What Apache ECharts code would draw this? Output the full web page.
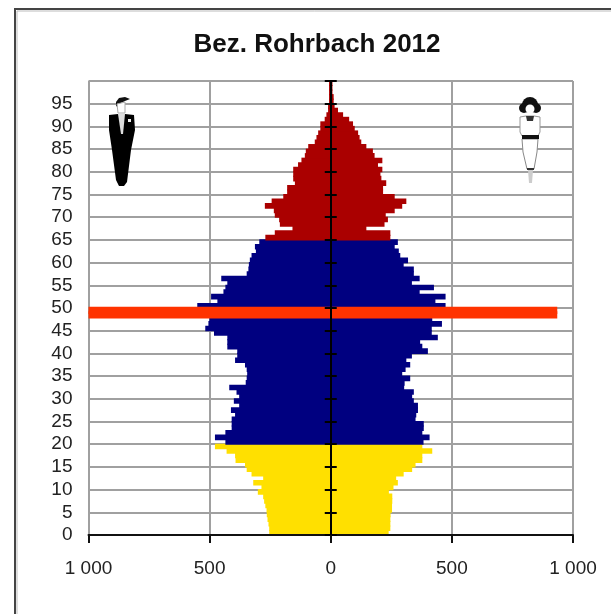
<!DOCTYPE html>
<html>
<head>
<meta charset="utf-8">
<style>html,body{margin:0;padding:0;background:#fff;overflow:hidden}#c{width:611px;height:614px}</style>
<script src="https://cdn.jsdelivr.net/npm/echarts@6/dist/echarts.min.js"></script>
</head>
<body>
<div id="c"></div>
<script>
const titleText = 'Bez. Rohrbach 2012';
const men = [254,254,257,261,264,265,270,275,279,301,286,320,279,327,347,354,393,395,430,478,
435,478,435,409,409,409,395,412,378,400,378,389,419,351,347,345,347,354,395,386,
386,427,427,427,482,518,505,501,498,520,551,468,494,443,435,427,452,347,340,338,
334,327,309,313,295,270,231,158,210,213,231,235,272,244,196,180,180,148,155,155,
155,135,121,107,103,93,66,59,52,43,43,25,18,11,11,7,7,7,7,7];
const women = [239,246,246,246,247,253,253,254,254,240,259,277,270,301,336,350,378,378,419,378,
383,408,378,384,384,350,353,360,360,343,336,343,303,305,328,295,309,328,312,335,
401,378,369,442,417,417,459,419,463,470,474,432,474,367,426,335,367,343,343,301,
319,287,281,264,277,246,246,147,222,236,227,264,295,312,264,216,216,229,209,205,
213,195,213,181,174,147,126,119,113,99,92,76,51,30,16,12,12,7,7,7];
const markerAges = [48,49];
const markerMen = [1000,1000];
const markerWomen = [935,935];
const ages = men.map((_, i) => String(i));
const cohortColors = {young:'#FFE000', working:'#000080', old:'#AA0000', marker:'#FF3300'};
const colorOf = a => a < 20 ? cohortColors.young : a < 65 ? cohortColors.working : cohortColors.old;
const fmtX = v => { const n = Math.abs(v); return n >= 1000 ? '1 000' : String(n); };
const item = (v, a) => ({value:v, itemStyle:{color:colorOf(a)}});
const markerData = (vals, sign) => ages.map((_, a) => {
  const k = markerAges.indexOf(a); return k < 0 ? null : sign * vals[k];
});
const font = 'Liberation Sans, Arial, sans-serif';
const chart = echarts.init(document.getElementById('c'), null, {renderer:'canvas'});
const hiddenCat = {type:'category', data:ages, show:false, boundaryGap:true};
chart.setOption({
  animation:false,
  backgroundColor:'#fff',
  title:{text:titleText, left:312, top:27, textAlign:'center',
    textStyle:{fontFamily:font, fontSize:26, fontWeight:'bold', color:'#111'}},
  grid:{left:88.5, right:38, top:81, bottom:79, containLabel:false},
  xAxis:[
    {type:'value', min:-1000, max:1000, interval:500,
      axisLine:{show:false}, axisTick:{show:false}, axisLabel:{show:false},
      splitLine:{show:true, lineStyle:{color:'#A0A0A0', width:2}}},
    {type:'value', min:-1000, max:1000, interval:500, position:'bottom', z:8,
      axisLine:{onZero:false, show:true, lineStyle:{color:'#111', width:2}},
      axisTick:{show:true, length:8, lineStyle:{color:'#111', width:2}},
      axisLabel:{margin:24, fontFamily:font, fontSize:19, color:'#222', formatter:fmtX, hideOverlap:false},
      splitLine:{show:false}}
  ],
  yAxis:[
    hiddenCat,
    {...hiddenCat},
    {type:'value', min:0, max:100, interval:5, position:'left',
      axisLine:{show:false}, axisTick:{show:false},
      axisLabel:{margin:16, fontFamily:font, fontSize:19, color:'#222', padding:[0,0,4,0],
        formatter:v => v === 100 ? '' : String(v)},
      splitLine:{show:true, lineStyle:{color:'#A0A0A0', width:2}}},
    {type:'value', min:0, max:100, interval:5, position:'left', offset:-242.25, z:8,
      axisLine:{show:true, lineStyle:{color:'#000', width:2}},
      axisTick:{show:true, length:6, lineStyle:{color:'#000', width:2}},
      axisLabel:{show:false}, splitLine:{show:false}},
    {type:'value', min:0, max:100, interval:5, position:'right', offset:-242.25, z:8,
      axisLine:{show:false},
      axisTick:{show:true, length:6, lineStyle:{color:'#000', width:2}},
      axisLabel:{show:false}, splitLine:{show:false}}
  ],
  series:[
    {name:'Männer', type:'bar', xAxisIndex:0, yAxisIndex:0, barWidth:5.6, barGap:'-100%', z:3,
      data:men.map((v,a) => item(-v,a))},
    {name:'Frauen', type:'bar', xAxisIndex:0, yAxisIndex:0, barWidth:5.6, barGap:'-100%', z:3,
      data:women.map((v,a) => item(v,a))},
    {name:'Markierung Männer', type:'bar', xAxisIndex:0, yAxisIndex:1, barWidth:'160%', barGap:'-100%', z:4,
      itemStyle:{color:cohortColors.marker}, data:markerData(markerMen,-1)},
    {name:'Markierung Frauen', type:'bar', xAxisIndex:0, yAxisIndex:1, barWidth:'160%', barGap:'-100%', z:4,
      itemStyle:{color:cohortColors.marker}, data:markerData(markerWomen,1)}
  ],
  graphic:{elements:[
    {type:'rect', z:1, silent:true, shape:{x:15,y:9,width:800,height:800},
      style:{fill:'none', stroke:'#444', lineWidth:2}},
    {type:'rect', z:1, silent:true, shape:{x:17,y:11,width:800,height:800},
      style:{fill:'none', stroke:'#BBB', lineWidth:1}},
    /* Mann */
    {type:'polygon', z:20, silent:true, shape:{points:[[116,102],[119,98],[125,97],[130,99],[125,101],[121,103],[118,107],[116,106]]}, style:{fill:'#111'}},
    {type:'polygon', z:20, silent:true, shape:{points:[[117,104],[125,102],[125,113],[118,113]]}, style:{fill:'#fff', stroke:'#aaa', lineWidth:1}},
    {type:'polygon', z:20, silent:true, shape:{points:[[109,115],[118,114],[125,114],[134,115],[135,130],[131,150],[127,182],[124,186],[119,186],[116,180],[112,150],[109,130]]}, style:{fill:'#000'}},
    {type:'polygon', z:21, silent:true, shape:{points:[[118,114],[125,114],[123,134],[121,134]]}, style:{fill:'#ddd'}},
    {type:'rect', z:21, silent:true, shape:{x:128,y:119,width:3,height:3}, style:{fill:'#eee'}},
    /* Frau */
    {type:'circle', z:20, silent:true, shape:{cx:530,cy:105,r:8}, style:{fill:'#111'}},
    {type:'circle', z:20, silent:true, shape:{cx:524,cy:108,r:5}, style:{fill:'#111'}},
    {type:'circle', z:20, silent:true, shape:{cx:536,cy:108,r:5}, style:{fill:'#111'}},
    {type:'circle', z:21, silent:true, shape:{cx:530,cy:109,r:4.5}, style:{fill:'#fff'}},
    {type:'polygon', z:20, silent:true, shape:{points:[[520,117],[526,116],[534,116],[540,117],[540,132],[538,136],[522,136],[520,132]]}, style:{fill:'#fff', stroke:'#999', lineWidth:1}},
    {type:'polygon', z:21, silent:true, shape:{points:[[526,116],[534,116],[533,121],[527,121]]}, style:{fill:'#333'}},
    {type:'polygon', z:20, silent:true, shape:{points:[[522,139],[538,139],[537,152],[534,169],[527,169],[523,152]]}, style:{fill:'#fff', stroke:'#888', lineWidth:1}},
    {type:'rect', z:21, silent:true, shape:{x:522,y:135,width:17,height:4}, style:{fill:'#111'}},
    {type:'rect', z:21, silent:true, shape:{x:527,y:168,width:7,height:2}, style:{fill:'#333'}},
    {type:'polygon', z:20, silent:true, shape:{points:[[528,170],[533,170],[532,183],[529,183]]}, style:{fill:'#ccc'}}
  ]}
});
</script>
</body>
</html>
